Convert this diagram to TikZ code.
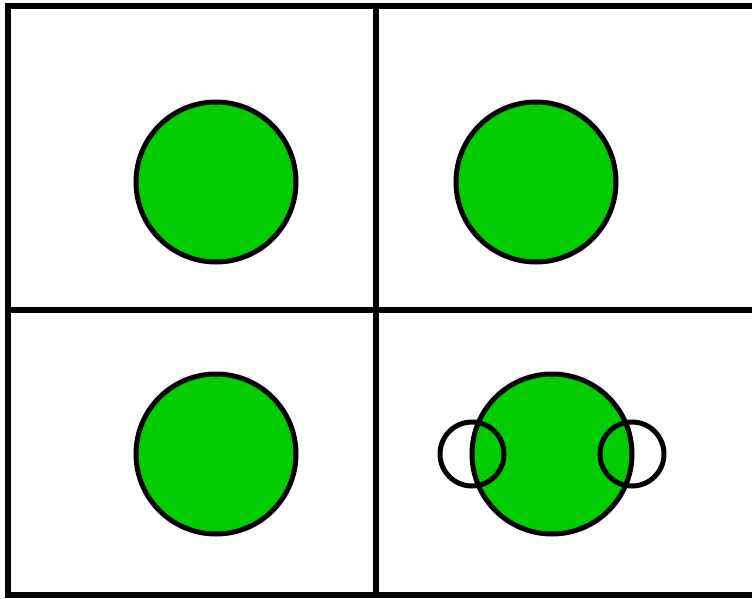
\documentclass[tikz,border=0pt]{standalone}
\usepackage{tikz}
\usetikzlibrary{positioning}
\definecolor{discgreen}{RGB}{0,204,0}
\tikzset{
  grid line/.style={line width=5.5pt},
  disc/.style={circle,draw=black,fill=discgreen,line width=5pt,minimum size=160pt,inner sep=0pt},
  ring/.style={circle,draw=black,line width=5pt,minimum size=64pt,inner sep=0pt}
}
\begin{document}
\begin{tikzpicture}[x=1pt,y=-1pt]
\useasboundingbox (0,0) rectangle (752,599);
\clip (0,0) rectangle (752,599);
% frame and cells
\draw[grid line] (780,6) -- (8,6) -- (8,595) -- (780,595);
\draw[grid line] (376,6) -- (376,595);
\draw[grid line] (8,310) -- (780,310);
% discs
\node[disc] (tl) at (216,182) {};
\node[disc] (tr) at (536,182) {};
\node[disc] (bl) at (216,454) {};
\node[disc] (br) at (552,454) {};
% rings over the last disc
\node[ring] (ringw) at (472,454) {};
\node[ring] (ringe) at (632,454) {};
\end{tikzpicture}
\end{document}
